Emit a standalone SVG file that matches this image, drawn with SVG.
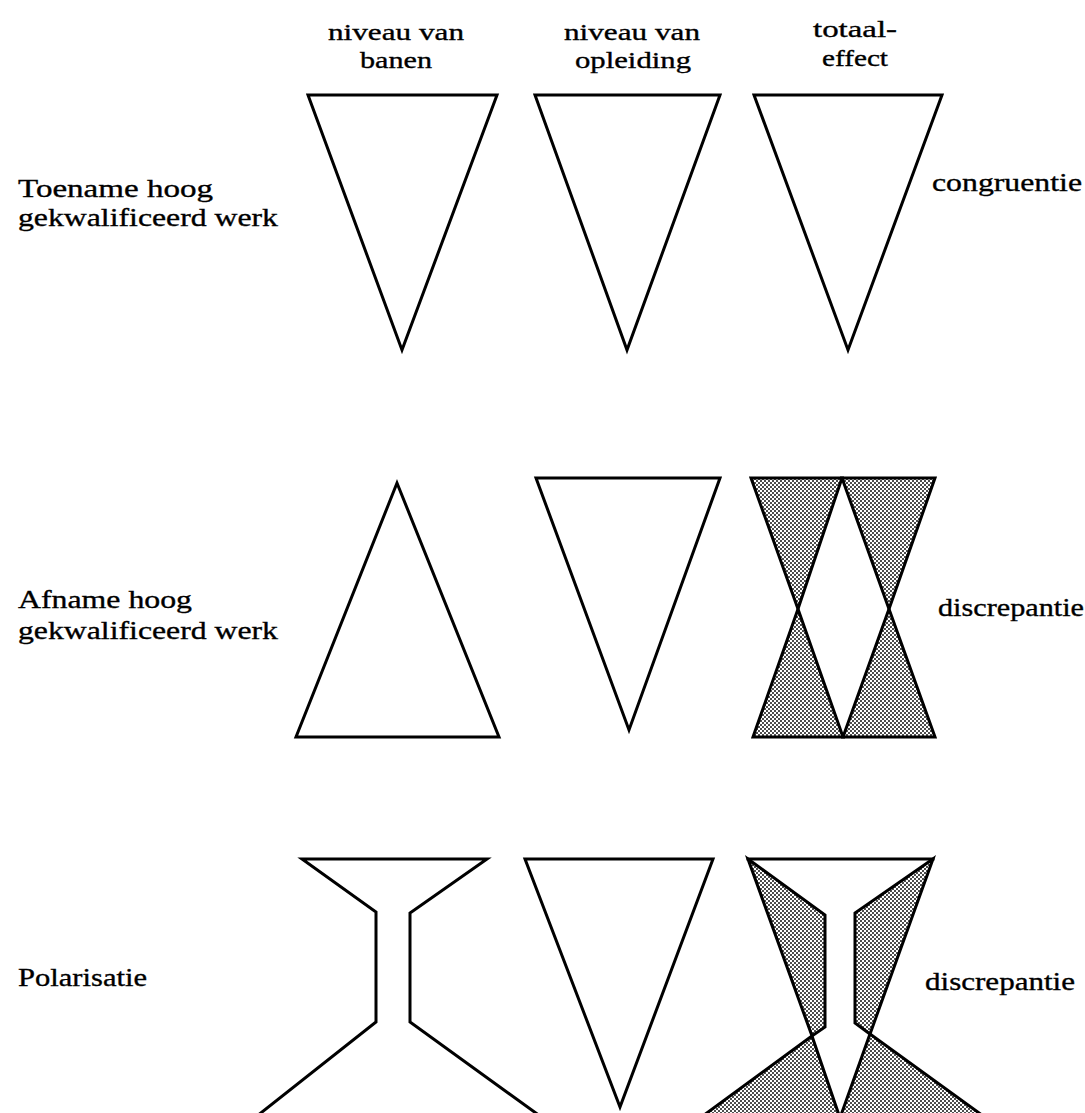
<svg xmlns="http://www.w3.org/2000/svg" width="1085" height="1113" viewBox="0 0 1085 1113">
<style>
.s{fill:none;stroke:#000;stroke-width:3;stroke-linejoin:miter;stroke-linecap:square}
.w{fill:#fff;stroke:#000;stroke-width:3;stroke-linejoin:miter}
.d{fill:url(#dots);stroke:#000;stroke-width:3;stroke-linejoin:miter}
.t{font-family:"Liberation Serif","DejaVu Serif",serif;font-size:26px;fill:#000;stroke:#000;stroke-width:0.35}
.h{font-size:24px}
.c{text-anchor:middle}
</style>
<defs>
<pattern id="dots" width="4" height="4" patternUnits="userSpaceOnUse">
<rect width="4" height="4" fill="#fff"/>
<circle cx="1" cy="1" r="0.95" fill="#000"/>
<circle cx="3" cy="3" r="0.95" fill="#000"/>
</pattern>
</defs>
<rect width="1085" height="1113" fill="#fff"/>
<g id="headers" font-family="Liberation Serif, DejaVu Serif, serif">
<text class="t h c" x="396" y="40" textLength="136" lengthAdjust="spacingAndGlyphs">niveau van</text>
<text class="t h c" x="396" y="68" textLength="72" lengthAdjust="spacingAndGlyphs">banen</text>
<text class="t h c" x="632" y="40" textLength="136" lengthAdjust="spacingAndGlyphs">niveau van</text>
<text class="t h c" x="633" y="68" textLength="116" lengthAdjust="spacingAndGlyphs">opleiding</text>
<text class="t h c" x="855" y="37" textLength="84" lengthAdjust="spacingAndGlyphs">totaal-</text>
<text class="t h c" x="855" y="66" textLength="66" lengthAdjust="spacingAndGlyphs">effect</text>
</g>
<g id="row-labels" font-family="Liberation Serif, DejaVu Serif, serif">
<text class="t" x="18" y="197" textLength="195" lengthAdjust="spacingAndGlyphs">Toename hoog</text>
<text class="t" x="18" y="226" textLength="260" lengthAdjust="spacingAndGlyphs">gekwalificeerd werk</text>
<text class="t" x="18" y="608" textLength="174" lengthAdjust="spacingAndGlyphs">Afname hoog</text>
<text class="t" x="18" y="639" textLength="260" lengthAdjust="spacingAndGlyphs">gekwalificeerd werk</text>
<text class="t" x="18" y="986" textLength="129" lengthAdjust="spacingAndGlyphs">Polarisatie</text>
</g>
<g id="effect-labels" font-family="Liberation Serif, DejaVu Serif, serif">
<text class="t" x="932" y="191" textLength="150" lengthAdjust="spacingAndGlyphs">congruentie</text>
<text class="t" x="938" y="616" textLength="146" lengthAdjust="spacingAndGlyphs">discrepantie</text>
<text class="t" x="925" y="990" textLength="150" lengthAdjust="spacingAndGlyphs">discrepantie</text>
</g>
<g id="r1-banen"><polygon class="w" points="308,95 497,95 402,350"/></g>
<g id="r1-opleiding"><polygon class="w" points="535,95 720,95 627,350"/></g>
<g id="r1-totaal"><polygon class="w" points="754,95 942,95 848,350"/></g>
<g id="r2-banen"><polygon class="w" points="397,483 499,737 296,737"/></g>
<g id="r2-opleiding"><polygon class="w" points="536,478 720,478 629,730"/></g>
<g id="r2-totaal">
<polygon class="d" points="751,478 842,478 798,609"/>
<polygon class="d" points="842,478 935,478 889,609"/>
<polygon class="d" points="798,609 843,737 753,737"/>
<polygon class="d" points="889,609 935,737 843,737"/>
</g>
<g id="r3-banen">
<polyline class="s" points="257,1116 376,1022 376,912 302,859 487,859 410,913 410,1022 540,1116"/>
</g>
<g id="r3-opleiding"><polygon class="w" points="525,859 713,859 620,1107"/></g>
<g id="r3-totaal">
<polygon class="d" points="748,859 825,915 825,1027 812,1036"/>
<polygon class="d" points="933,859 870,1034 855,1023 855,913"/>
<polygon class="d" points="812,1036 840,1118 700,1118"/>
<polygon class="d" points="870,1034 986,1118 840,1118"/>
<line class="s" x1="748" y1="859" x2="933" y2="859"/>
</g>
<g id="connectors"></g>
</svg>
